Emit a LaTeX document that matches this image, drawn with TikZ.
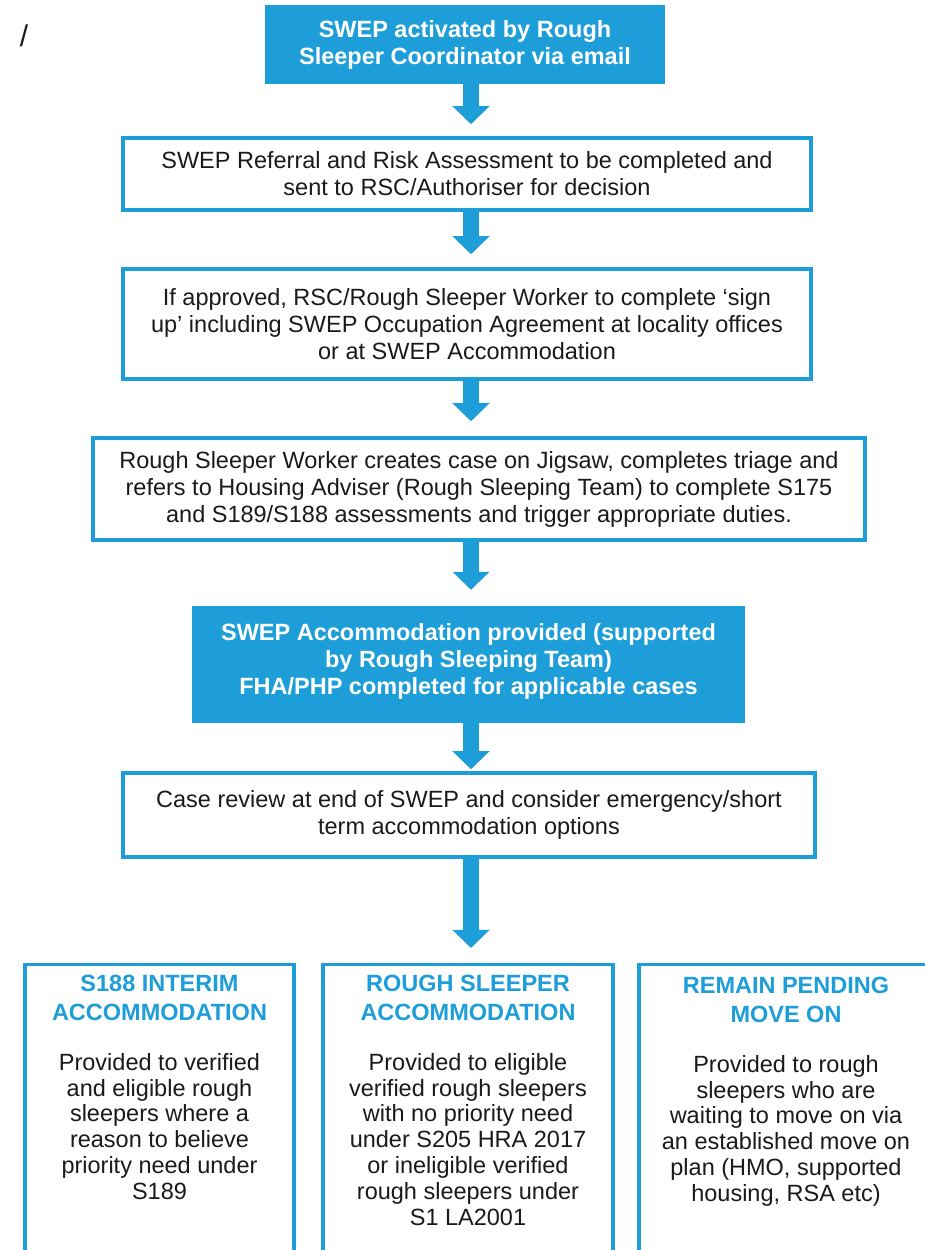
\documentclass[tikz,border=0pt]{standalone}
\usepackage{fontspec}
\setmainfont{Liberation Sans}
\usetikzlibrary{arrows.meta}

\begin{document}
\begin{tikzpicture}[x=1pt,y=1pt,
  stepbox/.style={draw=flowBlue,line width=3.5pt,fill=white,inner sep=0pt,align=center,text=textColor,font=\fontsize{23.5}{27}\selectfont},
  keybox/.style={fill=flowBlue,inner sep=0pt,align=center,text=white,font=\fontsize{23.5}{27}\selectfont\bfseries},
  optionbox/.style={draw=flowBlue,line width=3.5pt,inner sep=0pt,anchor=north,minimum height=330},
  optionhead/.style={inner sep=0pt,align=center,anchor=north,text=flowBlue,font=\fontsize{23.5}{28.5}\selectfont\bfseries},
  optiontext/.style={inner sep=0pt,align=center,anchor=north,text=textColor,font=\fontsize{23.5}{25.8}\selectfont},
  flow/.style={draw=flowBlue,line width=16pt,-{Triangle[width=36pt,length=18pt]}}]
\definecolor{flowBlue}{RGB}{30,158,216}
\definecolor{textColor}{RGB}{26,26,26}
\path[use as bounding box,fill=white] (0,0) rectangle (925,1250);
\begin{scope}
\path[clip] (0,0) rectangle (925,1250);

\node[inner sep=0pt,text=textColor,font=\fontsize{30}{30}\selectfont] (mark) at (24,1214) {/};

% main column
\node[keybox,minimum width=400,minimum height=79] (activated) at (465,1205.5)
  {SWEP activated by Rough\\Sleeper Coordinator via email};
\node[stepbox,minimum width=688,minimum height=72] (referral) at (467,1076)
  {SWEP Referral and Risk Assessment to be completed and\\sent to RSC/Authoriser for decision};
\node[stepbox,minimum width=688,minimum height=110] (signup) at (467,926)
  {If approved, RSC/Rough Sleeper Worker to complete `sign\\up' including SWEP Occupation Agreement at locality offices\\or at SWEP Accommodation};
\node[stepbox,minimum width=772,minimum height=102] (jigsaw) at (479,761)
  {Rough Sleeper Worker creates case on Jigsaw, completes triage and\\refers to Housing Adviser (Rough Sleeping Team) to complete S175\\and S189/S188 assessments and trigger appropriate duties.};
\node[keybox,minimum width=553,minimum height=117] (provided) at (468.5,585.5)
  {SWEP Accommodation provided (supported\\by Rough Sleeping Team)\\FHA/PHP completed for applicable cases\vphantom{g}\\[-16pt]};
\node[stepbox,minimum width=692,minimum height=84] (review) at (469,435)
  {Case review at end of SWEP and consider emergency/short\\term accommodation options};

% outcome boxes
\node[optionbox,minimum width=269] (interim) at (159.5,287) {};
\node[optionbox,minimum width=290] (sleeper) at (468,287) {};
\node[optionbox,minimum width=294] (pending) at (786,287) {};

\node[optionhead] (interimhead) at (159.5,275) {S188 INTERIM\\ACCOMMODATION};
\node[optionhead] (sleeperhead) at (468,275) {ROUGH SLEEPER\\ACCOMMODATION};
\node[optionhead] (pendinghead) at (786,273) {REMAIN PENDING\\MOVE ON};

\node[optiontext] (interimtext) at (159.5,197)
  {Provided to verified\\and eligible rough\\sleepers where a\\reason to believe\\priority need under\\S189};
\node[optiontext] (sleepertext) at (468,197)
  {Provided to eligible\\verified rough sleepers\\with no priority need\\under S205 HRA 2017\\or ineligible verified\\rough sleepers under\\S1 LA2001};
\node[optiontext] (pendingtext) at (786,195)
  {Provided to rough\\sleepers who are\\waiting to move on via\\an established move on\\plan (HMO, supported\\housing, RSA etc)};

% arrows
\coordinate (spine) at (471,0);
\draw[flow,shorten >=12pt] (activated.south -| spine) -- (referral.north -| spine);
\draw[flow,shorten >=13pt] (referral.south -| spine) -- (signup.north -| spine);
\draw[flow,shorten >=15pt] (signup.south -| spine) -- (jigsaw.north -| spine);
\draw[flow,shorten >=16pt] (jigsaw.south -| spine) -- (provided.north -| spine);
\draw[flow,shorten >=2pt] (provided.south -| spine) -- (review.north -| spine);
\draw[flow,shorten >=15pt] (review.south -| spine) -- (sleeper.north -| spine);
\end{scope}
\end{tikzpicture}
\end{document}
